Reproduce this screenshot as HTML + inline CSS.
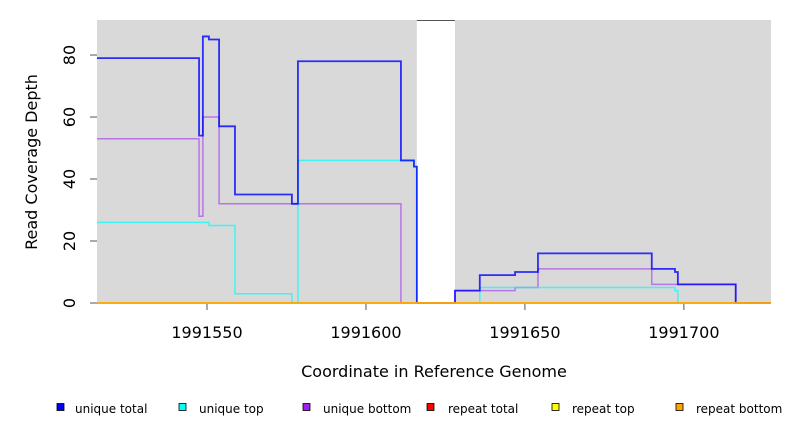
<!DOCTYPE html>
<html><head><meta charset="utf-8"><style>
body{margin:0;background:#fff;font-family:"Liberation Sans","DejaVu Sans",sans-serif}
</style></head><body>
<svg id="chart" width="792" height="432" xmlns="http://www.w3.org/2000/svg" font-family="DejaVu Sans, Liberation Sans, sans-serif">
<rect x="97" y="20" width="674" height="283" fill="#d9d9d9"/>
<g id="gap"></g>
<g id="axes"></g>
<g id="series"></g>
<text x="434" y="377" font-size="16" text-anchor="middle" fill="#000">Coordinate in Reference Genome</text>
<text transform="translate(37,162) rotate(-90)" font-size="16" text-anchor="middle" fill="#000">Read Coverage Depth</text>
<g id="legend"></g>
</svg>
<script>
const breaks=[1991515.4,1991547.5,1991548.7,1991550.6,1991553.8,1991558.8,1991576.7,1991578.6,1991611.0,1991615.1,1991616.0,1991628.0,1991635.8,1991646.9,1991654.1,1991689.9,1991697.2,1991698.1,1991716.3];
const endCoord=1991727.4;
const uniqueTop=[26,26,26,25,25,3,0,46,46,44,0,0,5,5,5,5,4,0,0];
const uniqueBottom=[53,28,60,60,32,32,32,32,0,0,0,4,4,5,11,6,6,6,0];
const uniqueTotal=uniqueTop.map((v,i)=>v+uniqueBottom[i]);
const repeatVals=breaks.map(()=>0);
const xTicks=[1991550,1991600,1991650,1991700];
const yTicks=[0,20,40,60,80];
const gapRange=[1991616.0,1991628.0];
const legendLabels=["unique total","unique top","unique bottom","repeat total","repeat top","repeat bottom"];
const legendColors=["#0000ff","#00ffff","#a020f0","#ff0000","#ffff00","#ffa500"];

const X0=97,X1=771,Y0=303,Y1=20,xmin=1991515.4,xmax=1991727.4,ymax=91.3;
const sx=v=>X0+(v-xmin)/(xmax-xmin)*(X1-X0);
const sy=v=>Y0-v/ymax*(Y0-Y1);
const NS="http://www.w3.org/2000/svg";
function mk(tag,parent,attrs){const e=document.createElementNS(NS,tag);for(const k in attrs)e.setAttribute(k,attrs[k]);parent.appendChild(e);return e;}

const gap=document.getElementById('gap');
const g=mk('rect',gap,{x:sx(gapRange[0]),y:Y1,width:sx(gapRange[1])-sx(gapRange[0]),height:Y0-Y1,fill:'#fff'});


const tl=mk('line',gap,{x1:sx(gapRange[0]),x2:sx(gapRange[1]),y1:Y1+0.5,y2:Y1+0.5,stroke:'#555','stroke-width':1});



const axes=document.getElementById('axes');
xTicks.forEach(t=>{
  const l=mk('line',axes,{x1:sx(t),x2:sx(t),y1:Y0,y2:Y0+7,stroke:'#555'});
  
  
  const tx=mk('text',axes,{x:sx(t),y:338,'font-size':16,'text-anchor':'middle',fill:'#000'});
  tx.textContent=t;
  
  
});
yTicks.forEach(t=>{
  const l=mk('line',axes,{x1:X0-7,x2:X0,y1:sy(t),y2:sy(t),stroke:'#555'});
  
  
  const tx=mk('text',axes,{transform:`translate(75,${sy(t)}) rotate(-90)`,'font-size':16,'text-anchor':'middle',fill:'#000'});
  tx.textContent=t;
  
  
});

function stepPath(vals){
  let d='';
  for(let i=0;i<breaks.length;i++){
    const x=sx(breaks[i]),y=sy(vals[i]),xn=sx(i+1<breaks.length?breaks[i+1]:endCoord);
    d+=(i===0?'M':'L')+x+','+y+'L'+xn+','+y;
  }
  return d;
}
const series=document.getElementById('series');
[[uniqueBottom,'#a020f0',1.5,0.55,'unique-bottom-line'],[uniqueTop,'#00ffff',1.5,0.7,'unique-top-line'],[uniqueTotal,'#0000ff',1.8,0.8,'unique-total-line'],
 [repeatVals,'#ff0000',1.5,1,'repeat-total-line'],[repeatVals,'#ffff00',1.5,1,'repeat-top-line'],[repeatVals,'#ffa500',1.5,1,'repeat-bottom-line']].forEach(s=>{
  const p=mk('path',series,{d:stepPath(s[0]),fill:'none',stroke:s[1],'stroke-width':s[2],'stroke-opacity':s[3]});
  
  
});

const legend=document.getElementById('legend');
const lx=[57,179,303,427,552,676];
const ltx=[75,199,323,448,572,696];
legendLabels.forEach((lab,i)=>{
  const r=mk('rect',legend,{x:lx[i],y:403.5,width:7,height:7,fill:legendColors[i],stroke:'#000','stroke-width':0.8});
  
  
  const t=mk('text',legend,{x:ltx[i],y:413,'font-size':12,fill:'#000'});
  t.textContent=lab;
  
  
});
</script>
</body></html>
